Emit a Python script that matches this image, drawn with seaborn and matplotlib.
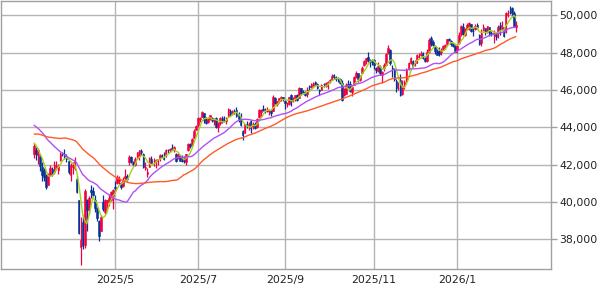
import numpy as np
import pandas as pd
import matplotlib
matplotlib.use("Agg")
import matplotlib.pyplot as plt
import seaborn as sns
from matplotlib.ticker import FuncFormatter, FixedLocator

# ---- data (Dow-style daily OHLC, read/estimated from the reference) ----
holidays = ["2024-12-25", "2025-01-01", "2025-01-09", "2025-01-20", "2025-02-17",
            "2025-04-18", "2025-05-26", "2025-06-19", "2025-07-04", "2025-09-01",
            "2025-11-27", "2025-12-25", "2026-01-01", "2026-01-19"]
history_start = "2024-12-19"

# closes before the first visible day (needed for the moving averages)
prior_closes = [42343, 42840, 42907, 43297, 43326, 42992, 42574, 42544,
                42392, 42732, 42706, 42528, 42635, 41938, 42297, 42518, 43222, 43153,
                43488, 44025, 44157, 44565, 44424, 44714, 44850, 44714, 44882, 44545,
                44421, 44556, 44873, 44747, 44303, 44470, 44593, 44368, 44711, 44546,
                44556, 44628, 44177, 43428, 43461, 43621, 43433, 43240, 43841,
                43191, 42521]

opens = [42560, 42800, 42500, 42460, 41900, 41700, 41380, 40910, 41460, 41770,
         41610, 41800, 41700, 42240, 42610, 42560, 42400, 42200, 41450,
         41870, 41810, 41210, 40100, 37600, 38950, 37680, 40090, 39600, 40650,
         40580, 40130, 39660, 39000, 38440, 40020, 39480, 40000, 40080, 40120, 40300,
         40820, 41000, 41120, 41030, 40870, 41300, 41410, 42140, 42390, 42110,
         41980, 42350, 42480, 42750, 42580, 41830, 41480, 41900, 42320, 42180, 42160,
         42180, 42300, 42520, 42430, 42450, 42810, 42780, 42900, 42790, 42600,
         42360, 42440, 42220, 42300, 42160, 42790, 43120, 43050, 43450, 43880,
         44120, 44430, 44560, 44750, 44420, 44300, 44460, 44520, 44330, 44510,
         44020, 44250, 44520, 44400, 44340, 44620, 44900, 44740, 44900, 44950, 44650, 44600,
         43810, 43720, 44200, 44130, 44330, 44050, 44180, 44020, 44570, 44820,
         45000, 44920, 44900, 44900, 44910, 44900, 45600, 45240, 45400, 45560, 45620,
         45440, 45260, 45280, 45740, 45500, 45520, 45760, 45600, 46100, 45900,
         45900, 45780, 46200, 46180, 46240, 46420, 46340, 46000, 45990, 46320, 46250,
         46200, 46480, 46530, 46800, 46700, 46620, 46600, 46390, 45720, 45800,
         46350, 46300, 45900, 46270, 46700, 46890, 46550, 46930, 47330, 47560,
         47750, 47580, 47600,
         47620, 47170, 47050, 47260, 46800, 47180, 47340, 48000, 48150, 47210,
         47100, 46480, 46100, 46520, 45800, 46270, 46470, 47140, 47460,
         47560, 47360, 47450, 47800, 47900, 47990, 47710, 47580, 48060, 48780,
         48560, 48380, 48120, 48100, 48020, 48200, 48380, 48470, 48730, 48620,
         48450, 48370,
         48130, 48500, 49000, 49400, 48960, 49300, 49360, 49520, 49170, 49290,
         49480, 48950, 48520, 49180, 49320, 49120, 49360, 49050, 48990, 49000,
         48860, 49420, 49250, 49380, 49100, 50050, 50200, 50380, 50150, 49400]

highs = [43160, 42960, 42900, 42590, 42150, 41810, 41510, 41560, 41960, 41880,
         42210, 42200, 42020, 42700, 42690, 42820, 42560, 42240, 42090,
         42120, 42390, 41380, 40120, 39200, 39300, 40710, 40140, 40310, 40890,
         40820, 40380, 39720, 39040, 39290, 40380, 40140, 40120, 40440, 40580, 40680,
         41120, 41450, 41380, 41080, 41320, 41770, 41520, 42520, 42470, 42200,
         42400, 42690, 42810, 42830, 42630, 42160, 41800, 42390, 42450, 42350, 42310,
         42330, 42560, 42600, 42700, 42840, 42860, 42910, 43110, 43000, 42650,
         42620, 42500, 42500, 42440, 42600, 43180, 43160, 43430, 43900, 44150,
         44570, 44560, 44880, 44780, 44560, 44540, 44690, 44580, 44490, 44580,
         44300, 44540, 44610, 44590, 44540, 45040, 44970, 44940, 45000, 45100, 44820, 44780,
         43850, 44200, 44360, 44300, 44380, 44280, 44280, 44500, 45010, 44980,
         45200, 45020, 45070, 45000, 44950, 45760, 45620, 45440, 45600, 45670, 45640,
         45450, 45370, 45650, 45780, 45620, 45740, 45800, 46140, 46130, 46000,
         45960, 46170, 46270, 46380, 46420, 46470, 46380, 46050, 46330, 46400, 46420,
         46470, 46600, 46880, 46840, 46780, 46680, 46640, 46550, 46130, 46360,
         46560, 46500, 46270, 46750, 47040, 46940, 46800, 47300, 47600, 47740,
         48040, 47680, 47680,
         47660, 47250, 47490, 47320, 47040, 47440, 47990, 48430, 48220, 47350,
         47180, 46600, 46420, 46860, 46530, 46550, 47190, 47520, 47750,
         47620, 47600, 47920, 47980, 48100, 48030, 47800, 48180, 48800, 48890,
         48680, 48420, 48230, 48300, 48280, 48440, 48480, 48750, 48800, 48670,
         48520, 48400,
         48470, 49120, 49500, 49620, 49330, 49610, 49630, 49560, 49330, 49560,
         49600, 49020, 49260, 49540, 49340, 49460, 49400, 49180, 49200, 49130,
         49470, 49650, 49680, 49400, 50200, 50300, 50510, 50480, 50230, 49720]

lows = [42340, 42250, 42020, 41650, 41150, 41150, 40700, 40900, 41400, 41400,
        41500, 41700, 41490, 42200, 42450, 42300, 42150, 41520, 41150,
        41480, 41740, 40500, 38310, 36610, 37460, 37510, 38460, 39330, 40210,
        40300, 39440, 38990, 37920, 38440, 39530, 39330, 39640, 39780, 40030, 39610,
        40640, 40950, 40980, 40680, 40810, 41180, 41150, 42000, 42070, 41950,
        41930, 42280, 42260, 42520, 41800, 41740, 41350, 41880, 42070, 41920, 41830,
        41960, 42180, 42400, 42230, 42420, 42650, 42660, 42800, 42690, 42120,
        42320, 42180, 42140, 42070, 41970, 42760, 42920, 43010, 43420, 43840,
        44020, 44300, 44540, 44240, 44200, 44210, 44380, 44280, 44140, 43990,
        43750, 44130, 44240, 44300, 44200, 44560, 44600, 44650, 44700, 44570, 44280, 44080,
        43340, 43700, 43960, 43860, 43690, 43930, 43920, 43970, 44520, 44560,
        44870, 44770, 44810, 44660, 44620, 44880, 45260, 45170, 45330, 45390, 45390,
        44980, 45100, 45220, 45150, 45370, 45440, 45410, 45580, 45760, 45780,
        45680, 45620, 46030, 46120, 46200, 46200, 46040, 45730, 45980, 46160, 46140,
        46070, 46370, 46520, 46570, 46510, 46460, 46300, 45440, 45700, 45790,
        46100, 45880, 45680, 46260, 46660, 46430, 46500, 46900, 47310, 47400,
        47520, 47260, 47320,
        47130, 46920, 46980, 46800, 46360, 47020, 47300, 47960, 47370, 46710,
        46500, 45900, 45990, 45700, 45730, 46060, 46460, 47100, 47420,
        47250, 47290, 47430, 47700, 47810, 47660, 47500, 47480, 48000, 48380,
        48340, 47940, 47860, 47820, 47900, 48170, 48200, 48440, 48620, 48390,
        48310, 48030,
        47970, 48470, 48900, 48940, 48900, 49220, 49200, 49100, 48890, 49200,
        49250, 48420, 48380, 49130, 48960, 49070, 48920, 48900, 48540, 48680,
        48800, 48960, 49200, 48850, 49050, 49900, 50100, 49900, 49400, 49100]

closes = [43006, 42579, 42802, 41912, 41433, 41350, 40814, 41488, 41842, 41582,
          41965, 41953, 41985, 42583, 42587, 42455, 42300, 41584, 42002,
          41990, 42226, 40546, 38315, 37966, 37646, 40609, 39594, 40213, 40525,
          40369, 39669, 39142, 38170, 39187, 39607, 40094, 40114, 40228, 40528, 40669,
          40753, 41317, 41219, 40829, 41114, 41368, 41249, 42410, 42141, 42051,
          42323, 42655, 42792, 42677, 41860, 41859, 41603, 42343, 42098, 42216, 42270,
          42305, 42519, 42428, 42319, 42763, 42762, 42867, 42865, 42968, 42197,
          42515, 42215, 42172, 42207, 42582, 43089, 42982, 43387, 43819, 44095,
          44495, 44484, 44829, 44406, 44241, 44458, 44651, 44372, 44460, 44023,
          44254, 44484, 44342, 44323, 44502, 45010, 44694, 44902, 44838, 44633, 44461, 44131,
          43589, 44174, 44112, 44193, 43969, 44176, 43975, 44459, 44922, 44911,
          44946, 44912, 44922, 44938, 44786, 45632, 45282, 45418, 45565, 45637, 45545,
          45296, 45271, 45621, 45401, 45515, 45711, 45490, 46108, 45834, 45883,
          45758, 46018, 46142, 46315, 46381, 46292, 46121, 45947, 46247, 46316, 46398,
          46441, 46519, 46758, 46695, 46603, 46602, 46358, 45479, 46068, 46270,
          46253, 45952, 46191, 46707, 46925, 46590, 46735, 47207, 47545, 47706,
          47632, 47522, 47563,
          47337, 47085, 47311, 46912, 46987, 47368, 47927, 48254, 47457, 47147,
          46590, 46092, 46138, 45752, 46245, 46448, 47112, 47427, 47716,
          47289, 47474, 47883, 47851, 47955, 47739, 47560, 48058, 48704, 48458,
          48416, 48114, 47886, 47952, 48135, 48363, 48442, 48731, 48711, 48462,
          48367, 48063,
          48382, 48977, 49462, 48996, 49266, 49504, 49590, 49191, 49149, 49442,
          49359, 48488, 49077, 49384, 49098, 49412, 49003, 49015, 49071, 48892,
          49407, 49240, 49501, 48908, 50115, 50135, 50188, 50121, 49452, 49500]

ma_windows = [5, 25, 50]
ma_colors = ["#a2d21e", "#b050f5", "#ff5a28"]
y_ticks = [38000, 40000, 42000, 44000, 46000, 48000, 50000]

# ---- build frame ----
n_prior = len(prior_closes)
all_close = prior_closes + closes
dates = pd.bdate_range(history_start, periods=len(all_close), freq="C", holidays=holidays)
full = pd.DataFrame({"date": dates, "close": all_close})
for w in ma_windows:
    full[f"ma{w}"] = full["close"].rolling(w).mean()
df = full.iloc[n_prior:].reset_index(drop=True)
df["open"] = opens
df["high"] = highs
df["low"] = lows
df["pos"] = np.arange(len(df))

# ---- figure ----
sns.set_style("white")
fig = plt.figure(figsize=(6.0, 2.84), dpi=100)
ax = fig.add_axes([0.5 / 600, 15 / 284, 550.5 / 600, 268.5 / 284])

up_col, down_col = "#f5003c", "#0a3296"
up = df["close"] >= df["open"]
cols = np.where(up, up_col, down_col)
ax.vlines(df["pos"], df["low"], df["high"], colors=cols, linewidth=0.9, zorder=2)
body_bottom = np.minimum(df["open"], df["close"])
body_h = np.abs(df["close"] - df["open"])
ax.bar(df["pos"], body_h, bottom=body_bottom, width=0.8, color=cols,
       edgecolor=cols, linewidth=0.4, zorder=3)

for w, c in zip(ma_windows, ma_colors):
    sns.lineplot(data=df, x="pos", y=f"ma{w}", ax=ax, color=c, linewidth=1.0,
                 zorder=4, legend=False)

# ---- axes styling ----
ax.set_xlim(-16.6, 255.4)
ax.set_ylim(36407, 50804)
ax.set_xlabel("")
ax.set_ylabel("")

month_start = df["date"].dt.month != df["date"].shift(1).dt.month
month_start.iloc[0] = False
tick_rows = df[month_start & (df["date"].dt.month % 2 == 1)]
ax.xaxis.set_major_locator(FixedLocator(tick_rows["pos"].tolist()))
ax.set_xticklabels([f"{d.year}/{d.month}" for d in tick_rows["date"]])

ax.yaxis.tick_right()
ax.yaxis.set_major_locator(FixedLocator(y_ticks))
ax.yaxis.set_major_formatter(FuncFormatter(lambda v, p: f"{int(v):,}"))

ax.grid(True, color="#b4b4b4", linewidth=1.0)
ax.set_axisbelow(True)
for s in ax.spines.values():
    s.set_color("#a0a0a0")
    s.set_linewidth(1.0)
ax.tick_params(axis="y", which="major", length=4, width=1.0, color="#a0a0a0",
               labelsize=7.8, labelcolor="#222222", pad=2, right=True, left=False)
ax.tick_params(axis="x", which="major", length=0, labelsize=7.8,
               labelcolor="#222222", pad=4)

fig.savefig("out.png", dpi=100)
